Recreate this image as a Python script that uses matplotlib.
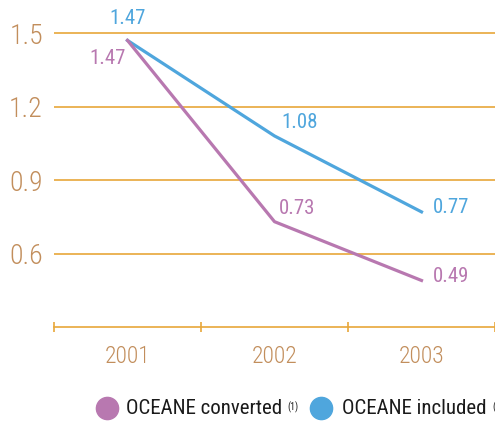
import matplotlib
matplotlib.use("Agg")
import matplotlib.pyplot as plt
from matplotlib.lines import Line2D

years = ["2001", "2002", "2003"]
converted = [1.47, 0.73, 0.49]
included = [1.47, 1.08, 0.77]
yticks = [0.6, 0.9, 1.2, 1.5]

PURPLE = "#B878B0"
BLUE = "#4FA6DD"
GRID = "#E8A73A"
TICK = "#C28E5C"
FONT = ["Roboto Condensed", "DejaVu Sans"]

plt.rcParams["font.family"] = FONT

fig = plt.figure(figsize=(4.95, 4.21), dpi=100)
ax = fig.add_axes([54 / 495, 94 / 421, 441 / 495, 327 / 421])
ax.set_xlim(-0.5, 2.5)
ax.set_ylim(0.3, 1.635)

for s in ["top", "right", "left"]:
    ax.spines[s].set_visible(False)
ax.spines["bottom"].set_color(GRID)
ax.spines["bottom"].set_linewidth(1.2)

ax.set_yticks(yticks)
ax.set_yticklabels([f"{v:.1f}" for v in yticks])
ax.tick_params(axis="y", length=0, pad=8, labelsize=20, labelcolor=TICK)
for t in ax.get_yticklabels():
    t.set_fontweight("light")
ax.yaxis.grid(True, color=GRID, linewidth=1.2)
ax.set_axisbelow(True)

x = list(range(len(years)))
ax.set_xticks(x)
ax.set_xticklabels(years)
ax.tick_params(axis="x", which="major", length=0, pad=13, labelsize=17, labelcolor=TICK)
for t in ax.get_xticklabels():
    t.set_fontweight("light")
ax.set_xticks([-0.5, 0.5, 1.5, 2.5], minor=True)
ax.tick_params(axis="x", which="minor", length=7, direction="inout", color=GRID, width=1.2)

ax.plot(x, included, color=BLUE, linewidth=2.3, clip_on=False)
ax.plot(x, converted, color=PURPLE, linewidth=2.3, clip_on=False)

lab = dict(fontsize=15)
ax.annotate(f"{included[0]:.2f}", (0, included[0]), xytext=(0, 9), textcoords="offset points",
            ha="center", va="bottom", color=BLUE, **lab)
ax.annotate(f"{converted[0]:.2f}", (0, converted[0]), xytext=(-14, -6), textcoords="offset points",
            ha="center", va="top", color=PURPLE, **lab)
ax.annotate(f"{included[1]:.2f}", (1, included[1]), xytext=(5, 3), textcoords="offset points",
            ha="left", va="bottom", color=BLUE, **lab)
ax.annotate(f"{converted[1]:.2f}", (1, converted[1]), xytext=(3, 3), textcoords="offset points",
            ha="left", va="bottom", color=PURPLE, **lab)
ax.annotate(f"{included[2]:.2f}", (2, included[2]), xytext=(8, 3), textcoords="offset points",
            ha="left", va="center", color=BLUE, **lab)
ax.annotate(f"{converted[2]:.2f}", (2, converted[2]), xytext=(8, 3), textcoords="offset points",
            ha="left", va="center", color=PURPLE, **lab)

# legend row: marker, label, footnote reference
ly = 1 - 408 / 421
for cx, tx, color, name, note in [(107, 126, PURPLE, "OCEANE converted", "(1)"),
                                  (321, 342, BLUE, "OCEANE included", "(2)")]:
    fig.add_artist(Line2D([cx / 495], [ly], marker="o", markersize=16, color=color,
                          linestyle="none", transform=fig.transFigure))
    t = fig.text(tx / 495, ly, name, fontsize=15, color="#1a1a1a", va="center", ha="left")
    fig.add_artist(plt.Annotation(note, xy=(1, 1), xycoords=t, xytext=(4, -2),
                                  textcoords="offset points", fontsize=7, color="#1a1a1a",
                                  ha="left", va="top"))

fig.savefig("out.png", dpi=100)
